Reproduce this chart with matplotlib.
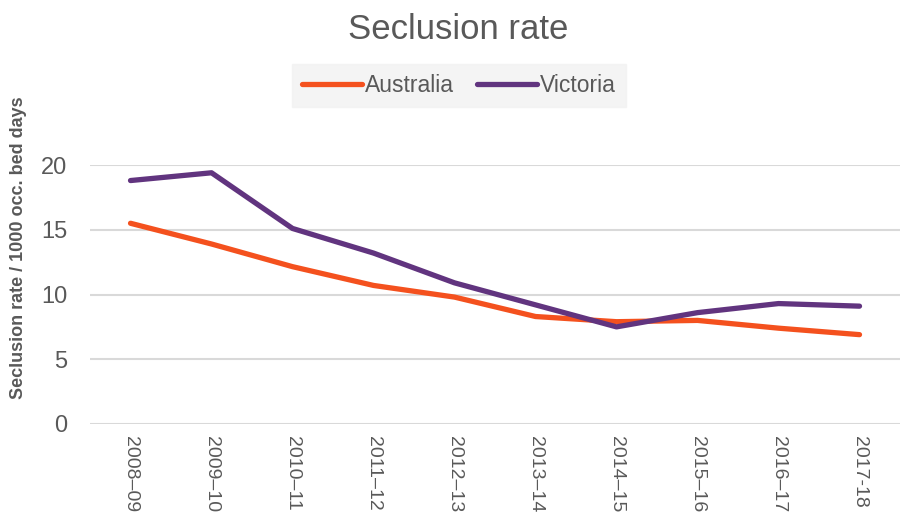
import matplotlib
matplotlib.use("Agg")
import matplotlib.pyplot as plt

years = ["2008–09", "2009–10", "2010–11", "2011–12", "2012–13",
         "2013–14", "2014–15", "2015–16", "2016–17", "2017-18"]
australia = [15.5, 13.9, 12.15, 10.7, 9.8, 8.3, 7.9, 8.0, 7.4, 6.9]
victoria = [18.8, 19.4, 15.1, 13.2, 10.9, 9.2, 7.5, 8.6, 9.3, 9.1]

plt.rcParams["font.family"] = ["Liberation Sans", "DejaVu Sans"]

grey = "#595959"
fig = plt.figure(figsize=(9.02, 5.15), dpi=100)
ax = fig.add_axes([0.0998, 0.1767, 0.898, 0.5029])

x = range(len(years))
ax.plot(x, australia, color="#F4511E", lw=3.8, label="Australia", solid_capstyle="round")
ax.plot(x, victoria, color="#61347F", lw=3.8, label="Victoria", solid_capstyle="round")

ax.set_xlim(-0.5, len(years) - 0.5)
ax.set_ylim(0, 20)
ax.set_yticks([0, 5, 10, 15, 20])
ax.yaxis.grid(True, color="#D9D9D9", lw=1.5)
ax.set_axisbelow(True)
for s in ax.spines.values():
    s.set_visible(False)
ax.set_xticks(list(x))
ax.set_xticklabels(years, rotation=270, fontsize=14, color=grey)
ax.tick_params(axis="both", length=0, labelcolor=grey)
ax.tick_params(axis="y", labelsize=17, pad=16.5)
ax.tick_params(axis="x", pad=9)

ax.set_ylabel("Seclusion rate / 1000 occ. bed days", fontsize=13, fontweight="bold",
              color=grey)
ax.yaxis.set_label_coords(-0.078, 0.68)

fig.suptitle("Seclusion rate", x=0.508, y=0.975, fontsize=25, color=grey)

leg = fig.legend(loc="center", bbox_to_anchor=(0.509, 0.834), ncol=2, fontsize=16.5,
                 frameon=True, fancybox=False, handlelength=2.6, handletextpad=0.15,
                 columnspacing=1.0, borderpad=0.45)
leg.get_frame().set_facecolor("#F2F2F2")
leg.get_frame().set_edgecolor("#F2F2F2")
for t in leg.get_texts():
    t.set_color(grey)

fig.savefig("out.png", dpi=100)
